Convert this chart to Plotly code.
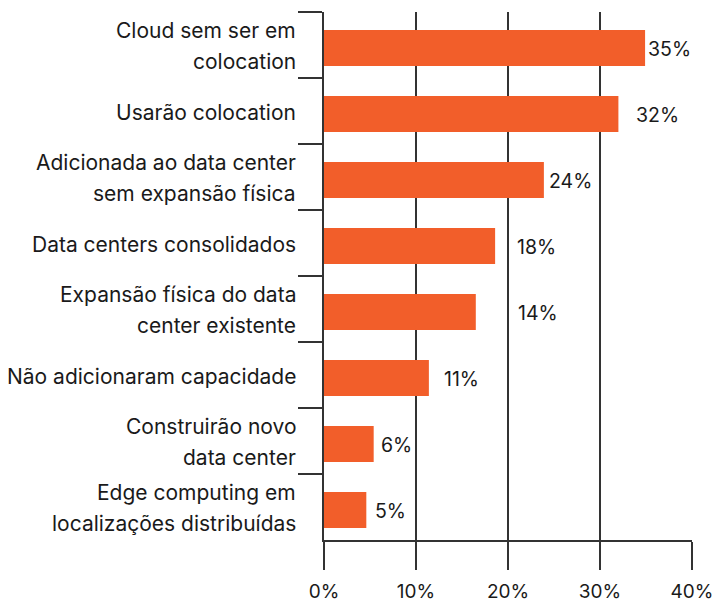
import plotly.graph_objects as go

categories = [
    "Cloud sem ser em<br>colocation",
    "Usarão colocation",
    "Adicionada ao data center<br>sem expansão física",
    "Data centers consolidados",
    "Expansão física do data<br>center existente",
    "Não adicionaram capacidade",
    "Construirão novo<br>data center",
    "Edge computing em<br>localizações distribuídas",
]
bar_values = [34.9, 32.0, 23.9, 18.6, 16.5, 11.4, 5.4, 4.6]
value_labels = ["35%", "32%", "24%", "18%", "14%", "11%", "6%", "5%"]
x_ticks = [0, 10, 20, 30, 40]
x_tick_labels = ["0%", "10%", "20%", "30%", "40%"]

# style: pixel gap between bar end and its value label (as in the original layout)
label_gap_px = [3, 18, 5, 22, 42, 15, 7, 9]

FONT = "Inter"
INK = "#1a1a1a"
LINE = "#333333"
ORANGE = "#F25E2A"
BAR_W = 0.545
BAR_DROP = 0.045  # bars sit slightly below band centre

fig = go.Figure(
    go.Bar(
        x=bar_values,
        y=categories,
        orientation="h",
        marker=dict(color=ORANGE, line=dict(width=0)),
        width=BAR_W,
        offset=-BAR_W / 2 + BAR_DROP,
        hoverinfo="skip",
    )
)

annotations = []
# category labels as annotations (for looser line spacing)
line_gap = 31
for cat in categories:
    lines = cat.split("<br>")
    n = len(lines)
    for i, ln in enumerate(lines):
        offset = (i - (n - 1) / 2) * line_gap
        annotations.append(
            dict(
                x=0, xref="paper", y=cat, yref="y",
                text=ln, showarrow=False,
                xanchor="right", yanchor="middle",
                xshift=-26, yshift=-offset - 1,
                font=dict(family=FONT, size=21, color=INK),
            )
        )

# value labels
for cat, v, lab, gap in zip(categories, bar_values, value_labels, label_gap_px):
    annotations.append(
        dict(
            x=v, xref="x", y=cat, yref="y",
            text=lab, showarrow=False,
            xanchor="left", yanchor="middle",
            xshift=gap - 2, yshift=-4,
            font=dict(family=FONT, size=19.5, color=INK),
        )
    )

fig.update_layout(
    width=714, height=604,
    margin=dict(l=324, r=22, t=12, b=64, autoexpand=False),
    paper_bgcolor="white", plot_bgcolor="white",
    showlegend=False,
    annotations=annotations,
    font=dict(family=FONT, size=19, color=INK),
)

fig.update_xaxes(
    range=[0, 40],
    tickmode="array", tickvals=x_ticks, ticktext=x_tick_labels,
    showgrid=True, gridcolor=LINE, gridwidth=1.5,
    showline=True, linecolor=LINE, linewidth=1.5,
    ticks="outside", ticklen=28, tickwidth=1.5, tickcolor=LINE,
    tickfont=dict(family=FONT, size=19, color=INK),
    ticklabelstandoff=5,
    zeroline=False, automargin=False,
    fixedrange=True,
)
fig.update_yaxes(
    type="category",
    categoryorder="array", categoryarray=categories,
    autorange="reversed",
    showticklabels=False,
    tickson="boundaries",
    ticks="outside", ticklen=24, tickwidth=1.5, tickcolor=LINE,
    showline=True, linecolor=LINE, linewidth=1.5,
    showgrid=False, zeroline=False, automargin=False,
    fixedrange=True,
)

fig.write_html(
    "out.html",
    config={"displayModeBar": False},
    post_script="document.body.style.margin='0';document.body.style.overflow='hidden';",
)
